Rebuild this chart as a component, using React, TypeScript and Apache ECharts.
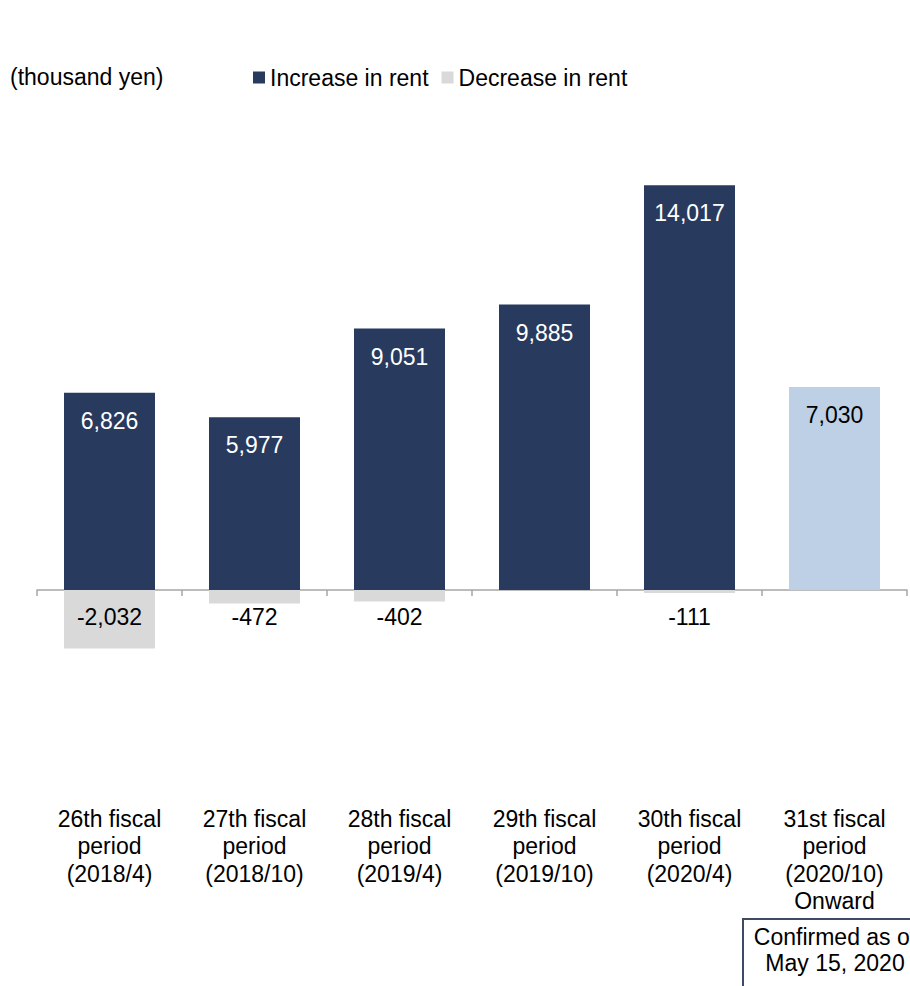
import React, { useEffect, useRef } from "react";
import * as echarts from "echarts";

const categories = [
  "26th fiscal\nperiod\n(2018/4)",
  "27th fiscal\nperiod\n(2018/10)",
  "28th fiscal\nperiod\n(2019/4)",
  "29th fiscal\nperiod\n(2019/10)",
  "30th fiscal\nperiod\n(2020/4)",
  "31st fiscal\nperiod\n(2020/10)\nOnward",
];
const increaseValues = [6826, 5977, 9051, 9885, 14017, 7030];
const decreaseValues: (number | null)[] = [-2032, -472, -402, null, -111, null];
const unitLabel = "(thousand yen)";
const noteText = "Confirmed as of\nMay 15, 2020";

const NAVY = "#283A5E";
const LIGHT_BLUE = "#BDD0E5";
const GRAY = "#D9D9D9";
const FONT = "'Liberation Sans', Arial, sans-serif";
const FS = 23;

const fmt = (v: number) => v.toLocaleString("en-US");

export default function App() {
  const ref = useRef<HTMLDivElement>(null);
  useEffect(() => {
    document.body.style.margin = "0";
    if (!ref.current) return;
    const chart = echarts.init(ref.current, undefined, { renderer: "svg" });
    chart.setOption({
      animation: false,
      textStyle: { fontFamily: FONT },
      legend: {
        left: 248,
        top: 61,
        itemWidth: 12,
        itemHeight: 12,
        itemGap: 13,
        icon: "rect",
        textStyle: { fontSize: FS, color: "#000", fontFamily: FONT },
        data: ["Increase in rent", "Decrease in rent"],
      },
      grid: { left: 37, right: 3, top: 128, bottom: 194, outerBoundsMode: "none", containLabel: false },
      xAxis: {
        type: "category",
        data: categories,
        axisLine: { lineStyle: { color: "#A6A6A6", width: 1.5 } },
        axisTick: { show: true, length: 6, lineStyle: { color: "#A6A6A6", width: 1.5 } },
        axisLabel: {
          margin: 13,
          fontSize: FS,
          lineHeight: 27.5,
          color: "#000",
          fontFamily: FONT,
          interval: 0,
        },
      },
      yAxis: {
        type: "value",
        min: -7000,
        max: 16000,
        show: false,
        splitLine: { show: false },
      },
      series: [
        {
          name: "Increase in rent",
          type: "bar",
          stack: "rent",
          barWidth: 91,
          itemStyle: { color: NAVY },
          label: {
            show: true,
            position: ["50%", 28],
            align: "center",
            verticalAlign: "middle",
            fontSize: FS,
            color: "#fff",
            fontFamily: FONT,
            formatter: (p: any) => fmt(p.value),
          },
          data: increaseValues.map((v, i) =>
            i === increaseValues.length - 1
              ? { value: v, itemStyle: { color: LIGHT_BLUE }, label: { color: "#000" } }
              : v
          ),
        },
        {
          name: "Decrease in rent",
          type: "bar",
          stack: "rent",
          barWidth: 91,
          itemStyle: { color: GRAY },
          label: {
            show: true,
            position: ["50%", 27],
            align: "center",
            verticalAlign: "middle",
            fontSize: FS,
            color: "#000",
            fontFamily: FONT,
            formatter: (p: any) => (p.value == null ? "" : fmt(p.value)),
          },
          data: decreaseValues.map((v) => (v == null ? "-" : v)),
        },
      ],
      graphic: [
        {
          type: "text",
          x: 10,
          y: 77,
          style: {
            text: unitLabel,
            fontSize: FS,
            fill: "#000",
            fontFamily: FONT,
            verticalAlign: "middle",
          },
        },
        {
          type: "rect",
          shape: { x: 743, y: 919, width: 190, height: 90 },
          style: { fill: "#fff", stroke: "#3F4A66", lineWidth: 2 },
        },
        {
          type: "text",
          x: 835,
          y: 950,
          style: {
            text: noteText,
            fontSize: FS,
            lineHeight: 26,
            fill: "#000",
            fontFamily: FONT,
            align: "center",
            verticalAlign: "middle",
          },
        },
      ],
    });
    return () => chart.dispose();
  }, []);
  return <div ref={ref} style={{ width: 910, height: 986 }} />;
}
